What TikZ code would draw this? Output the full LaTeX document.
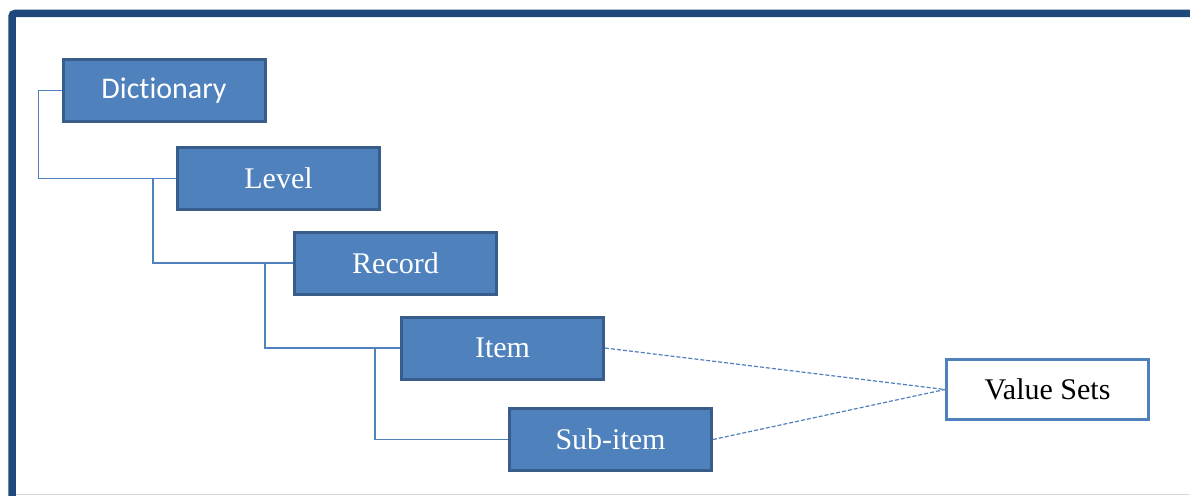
\documentclass[tikz,border=0pt]{standalone}
\usepackage{fontspec}
\setmainfont{Liberation Serif}
\newfontfamily\calibri[Ligatures={NoCommon}]{Carlito}
\usetikzlibrary{calc}
\definecolor{boxfill}{HTML}{4F81BD}
\definecolor{boxedge}{HTML}{385D8A}
\definecolor{framecol}{HTML}{1F497D}
\definecolor{linkcol}{HTML}{4F81BD}
\begin{document}
\begin{tikzpicture}[x=1pt,y=-1pt,
  bluebox/.style={draw=boxedge, fill=boxfill, line width=3pt, minimum width=202pt, minimum height=62pt, inner sep=0pt, text=white, font=\fontsize{30}{32}\selectfont},
  whitebox/.style={draw=linkcol, fill=white, line width=3pt, minimum width=202pt, minimum height=60pt, inner sep=0pt, text=black, font=\fontsize{30}{32}\selectfont},
  tree/.style={draw=linkcol, line width=1.3pt},
  dashlink/.style={draw=linkcol, line width=1.2pt, dash pattern=on 4pt off 2pt}]
\useasboundingbox (0,0) rectangle (1190,495);
\fill[white] (0,0) rectangle (1190,495);
% frame
\draw[framecol, line width=7.5pt, rounded corners=3pt] (12,500) -- (12,13.5) -- (1195,13.5);
\draw[gray!30, line width=1pt] (16,494.5) -- (1190,494.5);
% nodes
\node[bluebox, font=\calibri\fontsize{30}{32}\selectfont] (dict) at (164,90.5) {Dictionary};
\node[bluebox] (level) at (278.5,178.5) {Level};
\node[bluebox] (record) at (395.5,263) {Record};
\node[bluebox] (item) at (502.5,348) {Item};
\node[bluebox] (sub) at (610.5,439.5) {Sub-item};
\node[whitebox] (vs) at (1047.5,389.5) {Value Sets};
% tree connectors
\draw[tree] (dict.west) -- ($(dict.west)+(-23,0)$) |- (level.west);
\draw[tree] ($(level.west)+(-23,0)$) |- (record.west);
\draw[tree] ($(record.west)+(-28,0)$) |- (item.west);
\draw[tree] ($(item.west)+(-25,0)$) |- (sub.west);
% dashed links
\draw[dashlink] (item.east) -- (vs.west);
\draw[dashlink] (sub.east) -- (vs.west);
\end{tikzpicture}
\end{document}
